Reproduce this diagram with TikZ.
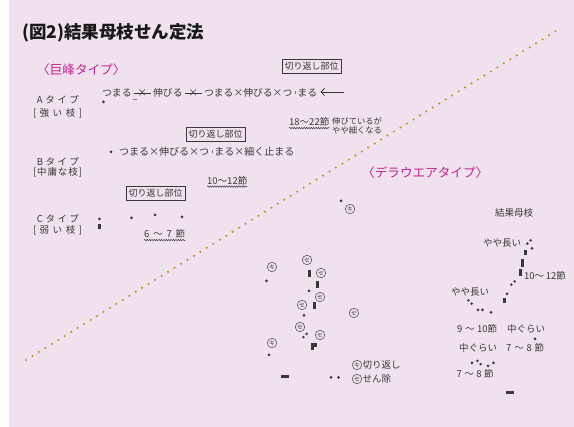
\documentclass[tikz,border=0pt]{standalone}
\usepackage{fontspec}
\setmainfont{Noto Sans CJK JP}
\usetikzlibrary{arrows.meta,decorations.pathmorphing}
\definecolor{bg}{HTML}{EFE2EE}
\definecolor{ink}{HTML}{383838}
\definecolor{mag}{HTML}{C4228E}
\definecolor{gold}{HTML}{C8901C}
\newcommand\strikex{\rlap{\raisebox{.34em}{\rule{1.8em}{.5pt}}}\makebox[1.8em]{×}}
\newcommand\smalltick{\hspace{.25em}\raisebox{.25em}{\textcolor{gray}{\rule{.3pt}{.3em}}}\hspace{.25em}}
\tikzset{
  pairup/.pic={\fill[ink] (-1.6,1.6) circle (1.4) (1.6,-1.6) circle (1.4);},
  pairdown/.pic={\fill[ink] (-1.6,-1.6) circle (1.4) (1.6,1.6) circle (1.4);}
}
\begin{document}
\begin{tikzpicture}[x=1pt,y=-1pt,
  every node/.style={inner sep=0pt,text=ink},
  lbl/.style={font=\fontsize{9.5}{10}\selectfont},
  row/.style={font=\fontsize{9.8}{10}\selectfont,anchor=west},
  head/.style={font=\fontsize{12.6}{13}\selectfont,text=mag,anchor=west},
  cutbox/.style={draw=ink,line width=0.8pt,minimum width=59pt,minimum height=14pt,font=\fontsize{9}{10}\selectfont},
  wavy/.style={draw=ink,line width=0.5pt,decorate,decoration={snake,amplitude=0.7pt,segment length=2.4pt}},
  dot/.style={circle,fill=ink,minimum size=3pt},
  vbar/.style={rectangle,fill=ink,minimum width=3pt,minimum height=7pt},
  hbar/.style={rectangle,fill=ink,minimum width=8pt,minimum height=3pt},
  maru/.style={circle,draw=ink,line width=0.45pt,minimum size=9.5pt,font=\fontsize{5.8}{6}\selectfont},
  golddots/.style={draw=gold,line width=2.3pt,line cap=round,dash pattern=on 0pt off 7.6pt}
]
\useasboundingbox (0,0) rectangle (574,427);
\fill[white] (0,0) rectangle (574,427);
\fill[bg] (9,0) rectangle (574,427);

% title and headings
\node[anchor=west,font=\bfseries\fontsize{17.5}{18}\selectfont,text=black!90] (title) at (22,33) {(図2)結果母枝せん定法};
\node[head] (kyoho) at (37,70) {〈巨峰タイプ〉};
\node[head] (dela) at (362,173) {〈デラウエアタイプ〉};

% dotted divider
\coordinate (ls) at (26,360);
\coordinate (le) at (556,31);
\draw[golddots] (ls) -- (le);

% type labels
\node[lbl] (atype) at (58,100) {\makebox[42pt]{A\hfill タ\hfill イ\hfill プ}};
\node[lbl] (astr) at (57.5,113.5) {\makebox[49pt]{[\hfill 強\hfill い\hfill 枝\hfill ]}};
\node[lbl] (btype) at (58,161.5) {\makebox[42pt]{B\hfill タ\hfill イ\hfill プ}};
\node[lbl] (bmid) at (57.5,172) {\makebox[49pt]{[\hfill 中\hfill 庸\hfill な\hfill 枝\hfill ]}};
\node[lbl] (ctype) at (58,219) {\makebox[42pt]{C\hfill タ\hfill イ\hfill プ}};
\node[lbl] (cweak) at (57.5,230) {\makebox[49pt]{[\hfill 弱\hfill い\hfill 枝\hfill ]}};

% A row
\node[row] (arow) at (102,93) {つまる\hspace{.2em}\strikex\hspace{.2em}伸びる\hspace{.2em}\strikex\hspace{.2em}つまる×伸びる×つ\smalltick まる};
\coordinate (arrS) at (344,92);
\coordinate (arrE) at (320.5,92);
\draw[ink,line width=0.8pt,-{Straight Barb[length=3.5pt,width=7pt]}] (arrS) -- (arrE);
\node[dot] (adot) at (103.5,102) {};
\draw[gray,line width=0.6pt] (132.5,99.5) -- (136.5,99.5);
\node[cutbox] (cut1) at (311.5,66.5) {切り返し部位};
\node[lbl,anchor=west] (n1822) at (289,122) {18〜22節};
\draw[wavy] ([yshift=-1.5pt]n1822.south west) -- ([yshift=-1.5pt]n1822.south east);
\node[anchor=west,align=left,font=\fontsize{8.3}{9}\selectfont] (thin) at (332,125.5) {伸びているが\\やや細くなる};

% B row
\node[dot] (bdot) at (111,152) {};
\node[row,font=\fontsize{10}{10}\selectfont] (brow) at (119,152) {つまる×伸びる×つ\smalltick まる×細く止まる};
\node[cutbox] (cut2) at (215.5,134) {切り返し部位};
\node[lbl,anchor=west] (n1012) at (207,180.5) {10〜12節};
\draw[wavy] ([yshift=-1.5pt]n1012.south west) -- ([yshift=-1.5pt]n1012.south east);

% C row
\node[dot] (c1) at (99.5,219) {};
\node[vbar,minimum height=5pt] (c2) at (99.5,226.5) {};
\node[dot] (c3) at (131.5,218) {};
\node[dot] (c4) at (155,215) {};
\node[dot] (c5) at (182,217) {};
\node[cutbox] (cut3) at (155.5,193) {切り返し部位};
\node[lbl,anchor=west] (n67) at (144,234) {\makebox[41pt]{6\hfill 〜\hfill 7\hfill 節}};
\draw[wavy] ([yshift=-1.5pt]n67.south west) -- ([yshift=-1.5pt]n67.south east);

% Delaware left schematic
\node[dot] (e1) at (341,201) {};
\node[maru] (k1) at (350,209) {キ};
\node[maru] (s1) at (307,260) {セ};
\node[maru] (k2) at (272,267) {キ};
\node[maru] (s2) at (321,273) {セ};
\node[vbar] (e2) at (309,274) {};
\node[dot] (e3) at (266.5,281) {};
\node[vbar] (e4) at (317,285) {};
\node[dot] (e5) at (309,291) {};
\node[maru] (s3) at (320,297) {セ};
\node[maru] (s4) at (302,305) {セ};
\node[vbar] (e6) at (314.5,306) {};
\node[maru] (s5) at (354,313) {セ};
\node[dot] (e7) at (304,315.5) {};
\node[maru] (s6) at (300,327) {セ};
\node[maru] (s7) at (320,335) {セ};
\pic (e8) at (305,335.5) {pairup};
\node[maru] (k3) at (272,343) {キ};
\node[rectangle,fill=ink,minimum width=6pt,minimum height=4pt] (e9) at (313.5,345) {};
\node[rectangle,fill=ink,minimum width=3pt,minimum height=4pt] (e9b) at (312,348.5) {};
\node[dot] (e10) at (269,355) {};
\node[hbar] (e11) at (285,377) {};
\node[dot] (e12) at (331,377.5) {};
\node[dot] (e13) at (338.5,377.5) {};

% legend
\node[maru] (lk) at (357,365) {キ};
\node[lbl,anchor=west] (lkt) at (362.5,365) {切り返し};
\node[maru] (ls2) at (357,379) {セ};
\node[lbl,anchor=west] (lst) at (362.5,379) {せん除};

% Delaware right schematic
\node[lbl,anchor=west] (kekka) at (495,213) {結果母枝};
\node[lbl,anchor=west] (yaya1) at (483,243.5) {やや長い};
\pic (f1) at (529,242) {pairup};
\node[dot] (f2) at (532,248.5) {};
\node[vbar,minimum height=5pt] (f3) at (525,253) {};
\node[vbar,minimum height=8pt] (f4) at (522,263.5) {};
\node[vbar] (f5) at (520,273) {};
\node[lbl,anchor=west] (n1012b) at (524,275.5) {10〜\,12節};
\pic (f6) at (513,283) {pairup};
\node[dot] (f7) at (507,294) {};
\node[vbar,minimum height=5pt] (f8) at (504,301) {};
\node[lbl,anchor=west] (yaya2) at (451,292) {やや長い};
\pic (f9) at (470,302) {pairdown};
\node[dot] (f10) at (478,310) {};
\node[dot] (f11) at (482.5,310) {};
\node[dot] (f12) at (491,312.5) {};
\node[lbl,anchor=west] (n910) at (457,329) {\makebox[40pt]{9\hfill 〜\hfill 10節}};
\node[lbl,anchor=west] (naka1) at (507,329) {中ぐらい};
\node[dot] (f13) at (535,339) {};
\node[lbl,anchor=west] (naka2) at (459,348) {中ぐらい};
\node[lbl,anchor=west] (n78a) at (506,348) {\makebox[38pt]{7\hfill 〜\hfill 8\hfill 節}};
\node[dot] (f14) at (472,363) {};
\pic (f15) at (479,362.5) {pairdown};
\node[dot] (f16) at (488,366) {};
\node[dot] (f17) at (493.5,363) {};
\node[lbl,anchor=west] (n78b) at (456.5,374) {\makebox[37pt]{7\hfill 〜\hfill 8\hfill 節}};
\node[hbar] (f18) at (510,393) {};
\end{tikzpicture}
\end{document}
